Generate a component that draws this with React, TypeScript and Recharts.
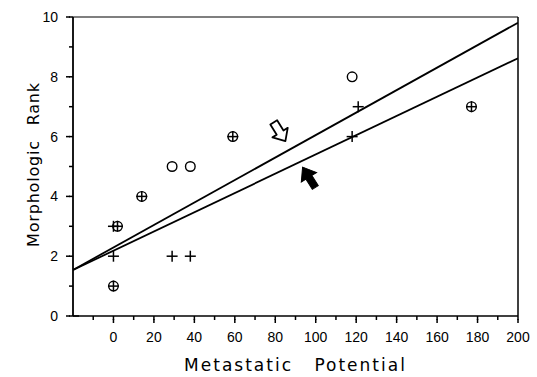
import React from 'react';
import {
  ComposedChart,
  Scatter,
  Line,
  XAxis,
  YAxis,
  ReferenceLine,
  ReferenceDot,
  Label,
} from 'recharts';

// tick positions (labels only on the major ones)
const xTicks = [-10, 0, 10, 20, 30, 40, 50, 60, 70, 80, 90, 100, 110, 120, 130, 140, 150, 160, 170, 180, 190, 200];
const yTicks = [0, 1, 2, 3, 4, 5, 6, 7, 8, 9, 10];

// open circles
const circlePoints = [
  { x: 0, y: 1 },
  { x: 2, y: 3 },
  { x: 14, y: 4 },
  { x: 29, y: 5 },
  { x: 38, y: 5 },
  { x: 59, y: 6 },
  { x: 118, y: 8 },
  { x: 177, y: 7 },
];

// crosses
const plusPoints = [
  { x: 0, y: 1 },
  { x: 0, y: 2 },
  { x: 0, y: 3 },
  { x: 2, y: 3 },
  { x: 14, y: 4 },
  { x: 29, y: 2 },
  { x: 38, y: 2 },
  { x: 59, y: 6 },
  { x: 118, y: 6 },
  { x: 121, y: 7 },
  { x: 177, y: 7 },
];

// regression lines
const upperLine = [
  { x: -20, y: 1.54 },
  { x: 200, y: 9.81 },
];
const lowerLine = [
  { x: -20, y: 1.54 },
  { x: 200, y: 8.62 },
];

// arrow tips: [x, y]
const openArrowTip = [85, 5.85];
const filledArrowTip = [93.5, 4.98];

const tickFont = '"Liberation Sans", Arial, sans-serif';
const titleFont = '"DejaVu Sans", sans-serif';
const TICK = 4; // minor tick length, drawn by recharts

// x/y arrive at the end of the short tick line; majors get a longer mark
const XTick = (props: any) => {
  const { x, y, payload } = props;
  const v = payload.value;
  const major = v >= 0 && v % 20 === 0;
  if (!major) return <g />;
  return (
    <g>
      <rect x={x - 0.75} y={y - 1} width={1.5} height={4} fill="#000" />
      <text x={x} y={y + 22} textAnchor="middle" fontSize={14} fontFamily={tickFont} fill="#000">
        {v}
      </text>
    </g>
  );
};

const YTick = (props: any) => {
  const { x, y, payload } = props;
  const v = payload.value;
  const major = v % 2 === 0;
  if (!major) return <g />;
  return (
    <g>
      <rect x={x - 3} y={y - 0.75} width={4} height={1.5} fill="#000" />
      {v === 0 && <rect x={x + TICK} y={y - 0.75} width={6} height={1.5} fill="#000" />}
      <text x={x - 11} y={y + 5} textAnchor="end" fontSize={14} fontFamily={tickFont} fill="#000">
        {v}
      </text>
    </g>
  );
};

const CircleMark = (props: any) => {
  const { cx, cy } = props;
  return <circle cx={cx} cy={cy} r={4.8} fill="none" stroke="#000" strokeWidth={1.4} />;
};

const PlusMark = (props: any) => {
  const { cx, cy } = props;
  return (
    <g stroke="#000" strokeWidth={1.5}>
      <line x1={cx - 5.5} y1={cy} x2={cx + 5.5} y2={cy} />
      <line x1={cx} y1={cy - 5.5} x2={cx} y2={cy + 5.5} />
    </g>
  );
};

const OpenArrow = (props: any) => {
  const { cx, cy } = props;
  return (
    <path
      transform={`translate(${cx},${cy}) rotate(-32)`}
      d="M0,0 L-9,-10 L-4,-10 L-4,-22 L4,-22 L4,-10 L9,-10 Z"
      fill="#fff"
      stroke="#000"
      strokeWidth={1.8}
      strokeLinejoin="round"
    />
  );
};

const FilledArrow = (props: any) => {
  const { cx, cy } = props;
  return (
    <path
      transform={`translate(${cx},${cy}) rotate(-32)`}
      d="M0,0 L9,12 L3.5,12 L3.5,24 L-3.5,24 L-3.5,12 L-9,12 Z"
      fill="#000"
      stroke="#000"
      strokeWidth={1}
    />
  );
};

const XTitle = (props: any) => {
  const vb = props.viewBox;
  return (
    <text
      x={vb.x + vb.width / 2}
      y={vb.y + 55}
      textAnchor="middle"
      fontSize={17}
      fontFamily={titleFont}
      style={{ letterSpacing: 2, wordSpacing: 14 }}
      fill="#000"
    >
      Metastatic Potential
    </text>
  );
};

const YTitle = (props: any) => {
  const vb = props.viewBox;
  const cx = vb.x + 39;
  const cy = vb.y + vb.height / 2 - 2;
  return (
    <text
      x={cx}
      y={cy}
      transform={`rotate(-90, ${cx}, ${cy})`}
      textAnchor="middle"
      fontSize={16}
      fontFamily={titleFont}
      style={{ letterSpacing: 0.8, wordSpacing: 9 }}
      fill="#000"
    >
      Morphologic Rank
    </text>
  );
};

export default function App() {
  return (
    <div style={{ width: 537, height: 377, background: '#fff' }}>
      <style>{`body{margin:0;background:#fff}`}</style>
      <ComposedChart width={537} height={377} margin={{ top: 17, right: 19, left: 0, bottom: 0 }}>
        <XAxis
          type="number"
          dataKey="x"
          domain={[-20, 200]}
          ticks={xTicks}
          interval={0}
          allowDataOverflow
          height={61}
          tickSize={TICK}
          tickMargin={0}
          tickLine={{ stroke: '#000', strokeWidth: 1.5 }}
          tick={<XTick />}
          axisLine={{ stroke: '#000', strokeWidth: 1.5 }}
        >
          <Label content={<XTitle />} />
        </XAxis>
        <YAxis
          type="number"
          dataKey="y"
          domain={[0, 10]}
          ticks={yTicks}
          interval={0}
          allowDataOverflow
          width={73}
          tickSize={TICK}
          tickMargin={0}
          tickLine={{ stroke: '#000', strokeWidth: 1.5 }}
          tick={<YTick />}
          axisLine={{ stroke: '#000', strokeWidth: 1.8 }}
        >
          <Label content={<YTitle />} />
        </YAxis>
        <ReferenceLine y={10} stroke="#000" strokeWidth={1.2} />
        <ReferenceLine x={200} stroke="#000" strokeWidth={1.5} />
        <Line
          data={upperLine}
          dataKey="y"
          type="linear"
          stroke="#000"
          strokeWidth={1.8}
          dot={false}
          activeDot={false}
          isAnimationActive={false}
        />
        <Line
          data={lowerLine}
          dataKey="y"
          type="linear"
          stroke="#000"
          strokeWidth={1.8}
          dot={false}
          activeDot={false}
          isAnimationActive={false}
        />
        <Scatter data={circlePoints} dataKey="y" shape={<CircleMark />} isAnimationActive={false} />
        <Scatter data={plusPoints} dataKey="y" shape={<PlusMark />} isAnimationActive={false} />
        <ReferenceDot x={openArrowTip[0]} y={openArrowTip[1]} shape={<OpenArrow />} />
        <ReferenceDot x={filledArrowTip[0]} y={filledArrowTip[1]} shape={<FilledArrow />} />
      </ComposedChart>
    </div>
  );
}
